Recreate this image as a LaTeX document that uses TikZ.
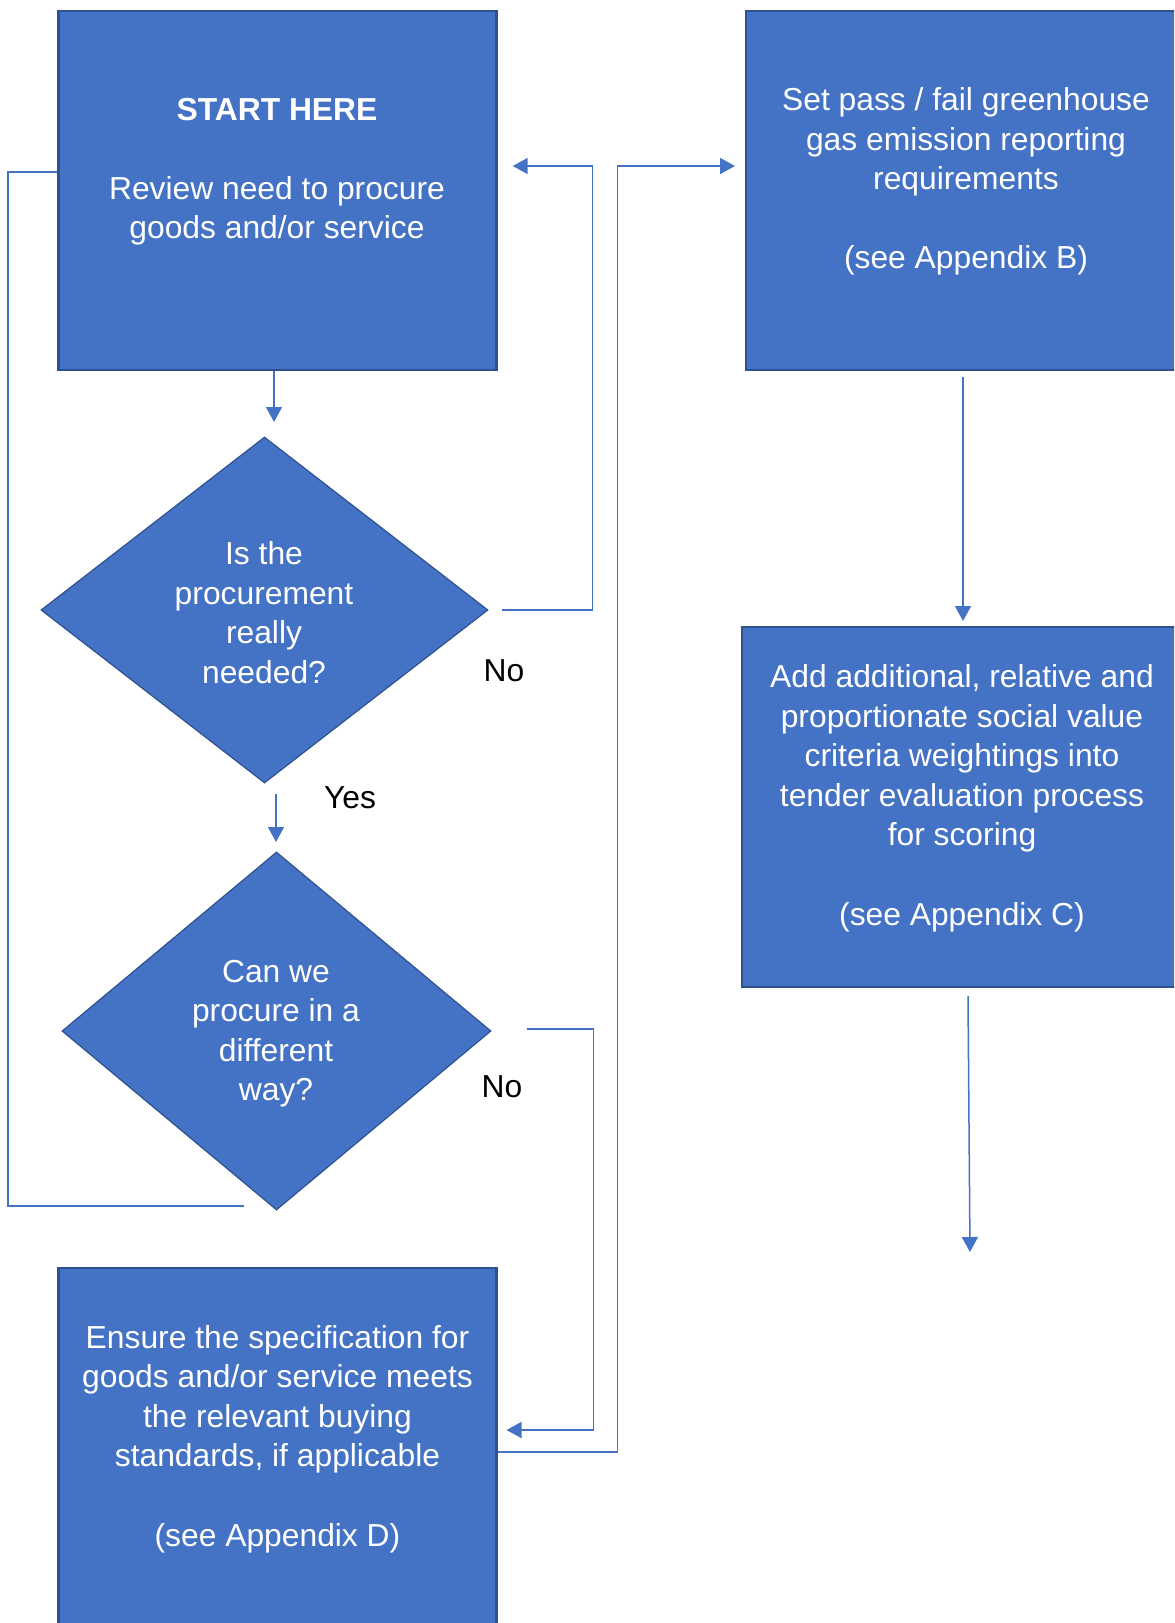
\documentclass[tikz,border=0pt]{standalone}
\usepackage{fontspec}
\setmainfont{Liberation Sans}
\usetikzlibrary{arrows.meta,shapes.geometric}
\definecolor{ofblue}{HTML}{4472C4}
\definecolor{ofdark}{HTML}{2F528F}
\begin{document}
\begin{tikzpicture}[x=0.5pt,y=-0.5pt,
  box/.style={rectangle, fill=ofblue, draw=ofdark, line width=1.2pt, inner sep=0pt, minimum width=219pt},
  dia/.style={diamond, fill=ofblue, draw=ofdark, line width=0.6pt, inner sep=0pt},
  txt/.style={text=white, align=center, inner sep=0pt, anchor=north, font=\fontsize{15.9pt}{19.8pt}\selectfont},
  lbl/.style={text=black, inner sep=0pt, font=\fontsize{15.9pt}{19.8pt}\selectfont},
  conn/.style={draw=ofblue, line width=0.75pt},
  arr/.style={conn, -{Triangle[length=7.5pt,width=8pt]}}]
\useasboundingbox (0,0) rectangle (1174,1623);
\clip (0,0) rectangle (1174,1623);
% shapes
\node[box, minimum height=179.5pt] (b1) at (277.5,190.5) {};
\node[box, minimum height=179.5pt] (b4) at (965,190.5) {};
\node[box, minimum height=180pt] (b5) at (961,807) {};
\node[box, minimum height=186pt] (b3) at (277.5,1454) {};
\node[dia, minimum width=223.5pt, minimum height=173pt] (d1) at (264.5,610) {};
\node[dia, minimum width=214.5pt, minimum height=179pt] (d2) at (276.5,1031) {};
% connectors
\coordinate (a1) at (274,422);
\draw[arr] (b1.south -| a1) -- (a1);
\draw[arr] ([xshift=6.5pt]d1.east) -- ++(91,0) |- ([xshift=7.5pt,yshift=12.25pt]b1.east);
\coordinate (a2) at (276,842);
\draw[arr] ([yshift=-5pt]d1.south -| a2) -- (a2);
\draw[arr] ([xshift=17.7pt,yshift=1pt]d2.east) -- ++(66.4,0) |- ([xshift=4.4pt,yshift=12pt]b3.east);
\draw[arr] ([yshift=1pt]b3.east) -- ++(120,0) |- ([xshift=-4.9pt,yshift=12.25pt]b4.west);
\coordinate (l1) at (244,1206);
\draw[conn] (l1) -- (8,1206) |- ([yshift=9.25pt]b1.west);
\coordinate (a3) at (963,621);
\draw[arr] ([yshift=-3pt]b4.south -| a3) -- (a3);
\coordinate (a4) at (970,1252);
\draw[arr] ([xshift=3.5pt,yshift=-4pt]b5.south) -- (a4);
% texts
\node[txt] (t1) at (277,92) {\strut\textbf{START HERE}\\\strut\\\strut Review need to procure\\\strut goods and/or service};
\node[txt] (t2) at (264,536.5) {\strut Is the\\\strut procurement\\\strut really\\\strut needed?};
\node[txt] (t3) at (276,954) {\strut Can we\\\strut procure in a\\\strut different\\\strut way?};
\node[txt] (t4) at (277.5,1320) {\strut Ensure the specification for\\\strut goods and/or service meets\\\strut the relevant buying\\\strut standards, if applicable\\\strut\\\strut (see Appendix D)};
\node[txt] (t5) at (966,82.3) {\strut Set pass / fail greenhouse\\\strut gas emission reporting\\\strut requirements\\\strut\\\strut (see Appendix B)};
\node[txt] (t6) at (962,659.3) {\strut Add additional, relative and\\\strut proportionate social value\\\strut criteria weightings into\\\strut tender evaluation process\\\strut for scoring\\\strut\\\strut (see Appendix C)};
\node[lbl] (no1) at (504,671) {No};
\node[lbl] (yes1) at (350,798) {Yes};
\node[lbl] (no2) at (502,1087) {No};
\end{tikzpicture}
\end{document}
